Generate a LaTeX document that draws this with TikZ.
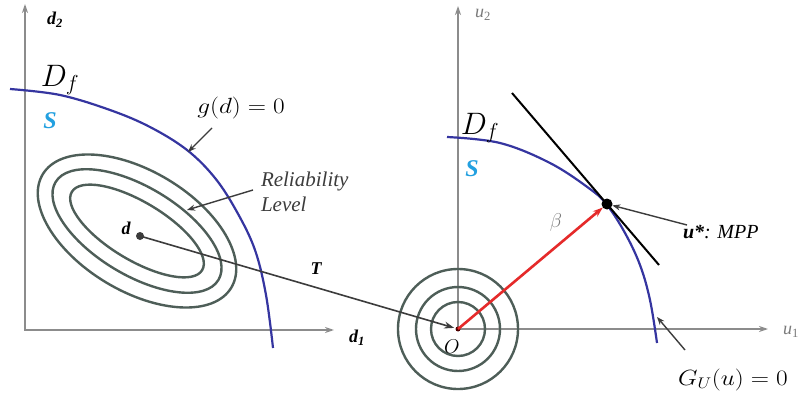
\RequirePackage{fix-cm}
\documentclass[tikz,border=0pt]{standalone}
\usepackage{fontspec}
\setmainfont{Liberation Serif}
\usepackage{graphicx}
\usetikzlibrary{arrows.meta}
\definecolor{axisgray}{HTML}{8C8C8C}
\definecolor{contour}{HTML}{4E5E58}
\definecolor{curveblue}{HTML}{3535A0}
\definecolor{sblue}{HTML}{22A0E0}
\definecolor{redarrow}{HTML}{E52A2A}
\definecolor{labgray}{HTML}{3C3C3C}
\definecolor{softgray}{HTML}{7A7A7A}
\begin{document}
\begin{tikzpicture}[x=1pt,y=-1pt,
  axis/.style={draw=axisgray, line width=2pt, {Stealth[length=9pt,width=6pt]}-{Stealth[length=9pt,width=6pt]}},
  contourline/.style={draw=contour, line width=2.4pt},
  boundary/.style={draw=curveblue, line width=2.2pt},
  pointer/.style={draw=labgray, line width=1.4pt, -{Stealth[length=8pt,width=6pt]}},
  lab/.style={inner sep=0pt, outer sep=0pt},
  dotnode/.style={circle, inner sep=0pt, outer sep=0pt},
  axlab/.style={inner sep=0pt, outer sep=0pt, font=\fontsize{18}{18}\selectfont\bfseries\itshape},
]
\useasboundingbox (0,0) rectangle (798,401);
\fill[white] (0,0) rectangle (798,401);

% ---------- left axes ----------
\coordinate (LO) at (25,330);
\coordinate (LY) at (25,4);
\coordinate (LX) at (334,330);
\draw[axis] (LY) -- (LO) -- (LX);

% ---------- right axes ----------
\coordinate (O) at (458,329);
\coordinate (RY) at (458,6);
\coordinate (RX) at (768,329);
\draw[axis] (RY) -- (O) -- (RX);

% ---------- contours ----------
\coordinate (EC) at (137,231);
\draw[contourline, rotate around={-31:(EC)}] (EC) ellipse (110 and 60);
\draw[contourline, rotate around={-31:(EC)}] (EC) ellipse (95 and 44);
\draw[contourline, rotate around={-31:(EC)}] (EC) ellipse (76 and 29);
\draw[contourline] (O) circle (60);
\draw[contourline] (O) circle (42);
\draw[contourline] (O) circle (27);

% ---------- limit-state curves ----------
\draw[boundary] plot[smooth, tension=0.6] coordinates
  {(10,89) (60,95) (110,110) (150,127) (187,150) (215,178) (237,212) (255,250) (266,295) (273,348)};
\draw[boundary] plot[smooth, tension=0.6] coordinates
  {(447,137) (500,143) (550,163) (590,189) (607,205) (625,233) (640,265) (650,300) (657,343)};

% tangent
\coordinate (TA) at (512,93);
\coordinate (TB) at (659,265);
\draw[black, line width=2pt] (TA) -- (TB);

% points
\node[dotnode, fill=black, minimum size=11pt] (mpp) at (607,204) {};
\node[dotnode, fill=labgray, minimum size=8pt] (dpt) at (140,236) {};
\node[dotnode, fill=black!70!red, minimum size=5pt] (opt) at (O) {};

% T mapping
\draw[draw=labgray, line width=1.6pt, -{Stealth[length=10pt,width=7pt]}, shorten >=4pt] (dpt.center) -- (O);
% beta vector
\draw[redarrow, line width=2.6pt, -{Stealth[length=10pt,width=7pt]}] (O) -- (mpp);

% ---------- labels ----------
\node[axlab] (d2lab) at (55,20) {d\textsubscript{2}};
\node[lab] (dfl) at (60,80) {\fontsize{31}{31}\selectfont $D_f$};
\node[lab, text=sblue] (sl) at (50,121) {\fontsize{24}{24}\selectfont\bfseries\itshape S};
\node[lab] (glab) at (241,108) {\scalebox{1.15}[1]{\fontsize{22}{22}\selectfont $g(d)=0$}};
\node[lab, align=left, anchor=west, text=labgray, font=\fontsize{21}{25}\selectfont\itshape] (rel) at (261,192)
  {Reliability\\Level};
\node[axlab] (dlab) at (126,228) {d};
\node[axlab] (tlab) at (316,269) {T};
\node[axlab] (d1lab) at (357,338) {d\textsubscript{1}};
\node[lab, text=softgray, font=\fontsize{18}{18}\selectfont\itshape] (u2lab) at (483,15) {u\textsubscript{\upshape 2}};
\node[lab, text=softgray, anchor=west, font=\fontsize{18}{18}\selectfont\itshape] (u1lab) at (783,332) {u\textsubscript{\upshape 1}};
\node[lab] (dfr) at (480,128) {\fontsize{31}{31}\selectfont $D_f$};
\node[lab, text=sblue] (sr) at (472,169) {\fontsize{24}{24}\selectfont\bfseries\itshape S};
\node[lab, text=softgray] (blab) at (556,222) {\fontsize{20}{20}\selectfont $\beta$};
\node[lab, anchor=west, font=\fontsize{20}{20}\selectfont\itshape] (mpplab) at (683,232) {\textbf{u*}: MPP};
\node[lab] (olab) at (452,347) {\fontsize{20}{20}\selectfont $O$};
\node[lab] (gulab) at (733,380) {\scalebox{1.15}[1]{\fontsize{22}{22}\selectfont $G_U(u)=0$}};

% ---------- pointers ----------
\coordinate (gp1) at (212,128);
\coordinate (gp2) at (188,152);
\draw[pointer] (gp1) -- (gp2);
\coordinate (rp1) at (253,190);
\coordinate (rp2) at (187,210);
\draw[pointer] (rp1) -- (rp2);
\coordinate (mp1) at (687,225);
\draw[pointer] (mp1) -- (mpp);
\coordinate (up1) at (685,350);
\coordinate (up2) at (657,317);
\draw[pointer] (up1) -- (up2);
\end{tikzpicture}
\end{document}
